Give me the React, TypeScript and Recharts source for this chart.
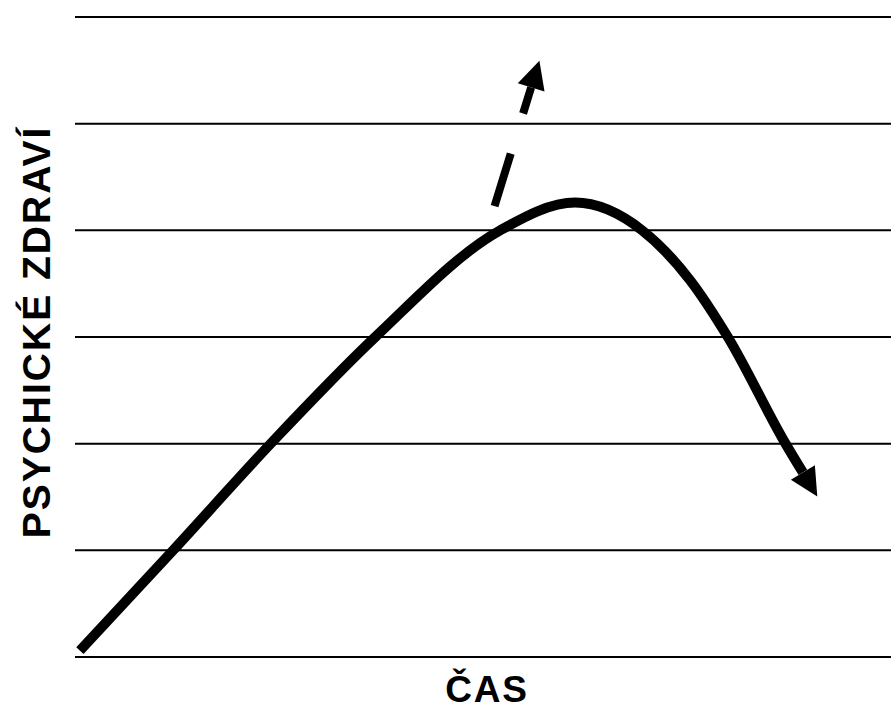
import { LineChart, Line, XAxis, YAxis, CartesianGrid } from "recharts";

// main curve: x = time (0-100), y = psychic health (0-6 grid units)
const mainX = [0.6, 11.9, 24.1, 36.8, 52.1, 61.3, 69.5, 75.4, 80.0, 87.0, 89.2];
const mainY = [0.06, 0.99, 2.01, 3.0, 4.0, 4.26, 4.0, 3.53, 3.0, 2.01, 1.73];

// dashed branch leaving the curve upwards
const dashX = [49.9, 55.9];
const dashY = [3.85, 5.34];

const gridTicks = [0, 1, 2, 3, 4, 5, 6];

const mainData = mainX.map((x, i) => ({ x, y: mainY[i] }));
const dashData = dashX.map((x, i) => ({ x, y: dashY[i] }));

const ArrowDot = (props: any) => {
  const { cx, cy, index, points } = props;
  if (!points || index !== points.length - 1 || index < 1) return <g key={`d-${index}`} />;
  const prev = points[index - 1];
  const dx = cx - prev.x;
  const dy = cy - prev.y;
  const len = Math.sqrt(dx * dx + dy * dy) || 1;
  const ux = dx / len;
  const uy = dy / len;
  const headLen = 28;
  const half = 14;
  const tip = [cx + ux * headLen, cy + uy * headLen];
  const a = [cx - uy * half, cy + ux * half];
  const b = [cx + uy * half, cy - ux * half];
  return (
    <polygon
      key={`d-${index}`}
      points={`${tip[0]},${tip[1]} ${a[0]},${a[1]} ${b[0]},${b[1]}`}
      fill="#000"
      stroke="none"
    />
  );
};

const labelFont = "'Liberation Sans', Arial, sans-serif";

export default function App() {
  return (
    <div style={{ position: "absolute", left: 0, top: 0, width: 891, height: 711, background: "#fff", overflow: "hidden" }}>
      <LineChart width={891} height={711} margin={{ top: 17, right: 0, bottom: 54, left: 75 }}>
        <CartesianGrid vertical={false} stroke="#000" strokeWidth={2} />
        <XAxis type="number" dataKey="x" domain={[0, 100]} hide />
        <YAxis type="number" domain={[0, 6]} ticks={gridTicks} hide />
        <Line
          data={mainData}
          dataKey="y"
          type="monotone"
          stroke="#000"
          strokeWidth={10}
          strokeLinejoin="round"
          dot={ArrowDot}
          activeDot={false}
          isAnimationActive={false}
        />
        <Line
          data={dashData}
          dataKey="y"
          type="linear"
          stroke="#000"
          strokeWidth={8}
          strokeDasharray="55 42"
          strokeDashoffset={55}
          dot={ArrowDot}
          activeDot={false}
          isAnimationActive={false}
        />
      </LineChart>
      <div
        style={{
          position: "absolute",
          left: 36,
          top: 332,
          transform: "translate(-50%, -50%) rotate(-90deg)",
          whiteSpace: "nowrap",
          fontFamily: labelFont,
          fontWeight: "bold",
          fontSize: 39,
          letterSpacing: 2,
          lineHeight: 1,
        }}
      >
        PSYCHICKÉ ZDRAVÍ
      </div>
      <div
        style={{
          position: "absolute",
          left: 487,
          top: 677,
          transform: "translateX(-50%)",
          whiteSpace: "nowrap",
          fontFamily: labelFont,
          fontWeight: "bold",
          fontSize: 37,
          letterSpacing: 1.8,
          lineHeight: 0.7,
        }}
      >
        ČAS
      </div>
    </div>
  );
}
